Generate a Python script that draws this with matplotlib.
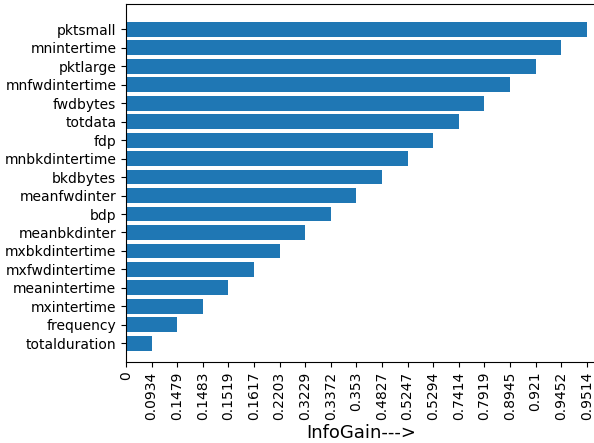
import numpy as np
import matplotlib
matplotlib.use("Agg")
import matplotlib.pyplot as plt

## Feature names, ordered from lowest to highest info gain
Features = ["totalduration", "frequency", "mxintertime", "meanintertime",
            "mxfwdintertime", "mxbkdintertime", "meanbkdinter", "bdp",
            "meanfwdinter", "bkdbytes", "mnbkdintertime", "fdp", "totdata",
            "fwdbytes", "mnfwdintertime", "pktlarge", "mnintertime", "pktsmall"]

## Info gain values (shown as tick labels, evenly spaced like categories)
Info_Gain = ["0.0934", "0.1479", "0.1483", "0.1519", "0.1617", "0.2203",
             "0.3229", "0.3372", "0.353", "0.4827", "0.5247", "0.5294",
             "0.7414", "0.7919", "0.8945", "0.921", "0.9452", "0.9514"]

Tick_Labels = ["0"] + Info_Gain

fig = plt.figure(figsize=(5.94, 4.43), dpi=100)
## axes runs a little past the right edge of the figure, like the cropped original
ax = fig.add_axes([126 / 594, 1 - 361.7 / 443, 471 / 594, 357.4 / 443])

Positions = np.arange(len(Features))
Bar_Lengths = np.arange(1, len(Info_Gain) + 1)

ax.barh(Positions, Bar_Lengths, height=0.8, color="#1f77b4")

ax.set_yticks(Positions)
ax.set_yticklabels(Features, fontsize=10)
ax.set_xticks(np.arange(len(Tick_Labels)))
ax.set_xticklabels(Tick_Labels, rotation=90, fontsize=10)

ax.set_xlim(0, 18.4)
ax.set_ylim(-1.0, 18.36)

ax.set_xlabel("InfoGain--->", fontsize=13, labelpad=3)

fig.savefig("out.png", dpi=100)
